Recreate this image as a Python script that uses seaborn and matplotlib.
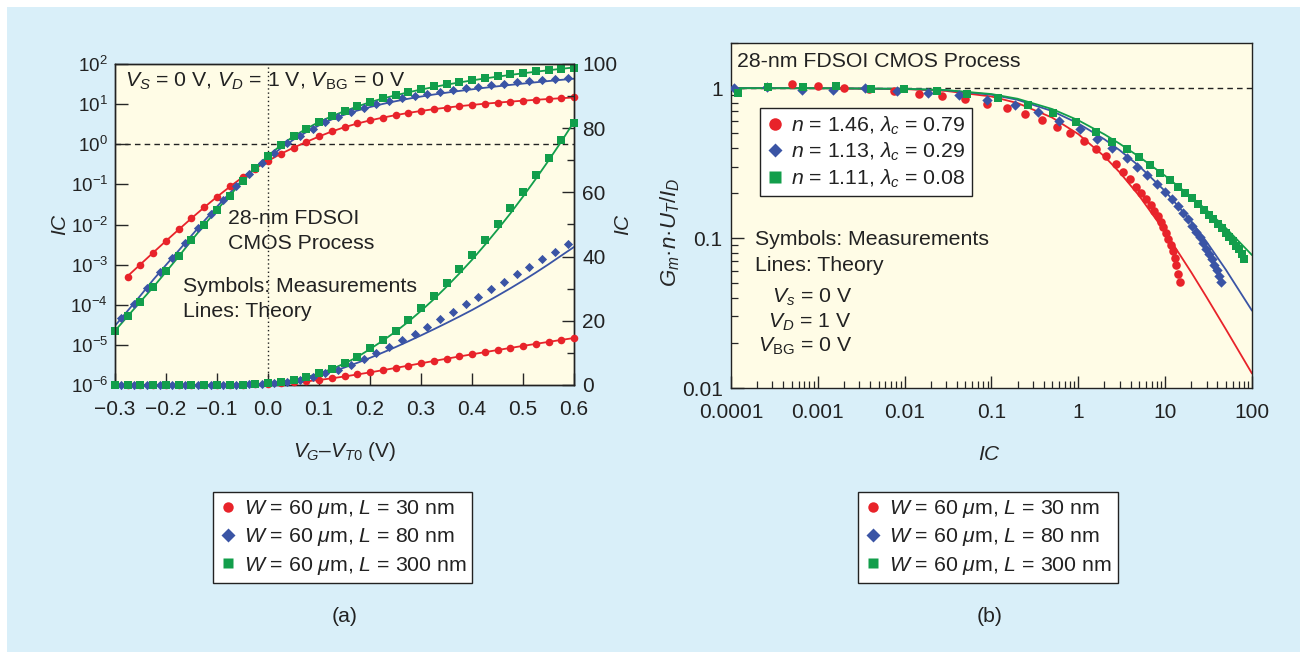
#!/usr/bin/env python3

import matplotlib
matplotlib.use('Agg')
import matplotlib.pyplot as plt
import numpy as np
import pandas as pd
import seaborn as sns
from matplotlib import ticker
from matplotlib.lines import Line2D
from matplotlib.patches import Rectangle

# ---------------- (a) IC versus VG - VT0 ----------------
# measurement grids differ a little per device (VT0 differs)
v_30 = [-0.275, -0.25, -0.225, -0.2, -0.175, -0.15, -0.125, -0.1, -0.075, -0.05, -0.025,
        0.0, 0.025, 0.05, 0.075, 0.1, 0.125, 0.15, 0.175, 0.2, 0.225, 0.25, 0.275, 0.3,
        0.325, 0.35, 0.375, 0.4, 0.425, 0.45, 0.475, 0.5, 0.525, 0.55, 0.575, 0.6]
ic_30 = [5.0e-4, 1.0e-3, 2.0e-3, 3.9e-3, 7.6e-3, 0.0145, 0.0269, 0.049, 0.089, 0.151, 0.245,
         0.38, 0.57, 0.81, 1.15, 1.58, 2.1, 2.68, 3.3, 3.95, 4.62, 5.32, 6.05, 6.8,
         7.5, 8.2, 8.88, 9.55, 10.22, 10.88, 11.54, 12.2, 12.85, 13.48, 14.1, 14.7]

v_80 = [-0.2875, -0.2625, -0.2375, -0.2125, -0.1875, -0.1625, -0.1375, -0.1125, -0.0875,
        -0.0625, -0.0375, -0.0125, 0.0125, 0.0375, 0.0625, 0.0875, 0.1125, 0.1375, 0.1625,
        0.1875, 0.2125, 0.2375, 0.2625, 0.2875, 0.3125, 0.3375, 0.3625, 0.3875, 0.4125,
        0.4375, 0.4625, 0.4875, 0.5125, 0.5375, 0.5625, 0.5875]
ic_80 = [4.7e-5, 1.07e-4, 2.6e-4, 6.5e-4, 1.48e-3, 3.5e-3, 8.1e-3, 0.0186, 0.0417,
         0.089, 0.186, 0.339, 0.60, 1.05, 1.62, 2.45, 3.63, 4.8, 6.2,
         8.0, 9.9, 11.9, 13.9, 16.0, 18.2, 20.5, 22.8, 25.1, 27.4,
         29.8, 32.2, 34.6, 36.9, 39.2, 41.5, 43.9]

v_300 = [-0.3, -0.275, -0.25, -0.225, -0.2, -0.175, -0.15, -0.125, -0.1, -0.075, -0.05,
         -0.025, 0.0, 0.025, 0.05, 0.075, 0.1, 0.125, 0.15, 0.175, 0.2, 0.225, 0.25, 0.275,
         0.3, 0.325, 0.35, 0.375, 0.4, 0.425, 0.45, 0.475, 0.5, 0.525, 0.55, 0.575, 0.6]
ic_300 = [2.24e-5, 5.2e-5, 1.2e-4, 2.7e-4, 6.8e-4, 1.6e-3, 4.1e-3, 9.8e-3, 0.0234, 0.0525, 0.12,
          0.263, 0.513, 0.944, 1.58, 2.45, 3.63, 5.0, 6.75, 8.8, 11.4, 14.0, 16.9, 20.2,
          23.9, 27.7, 31.9, 36.0, 40.5, 45.2, 50.2, 55.0, 60.2, 65.4, 70.6, 76.3, 81.7]

# theory curves (lines)
vt_30 = v_30
ict_30 = [5.2e-4, 1.02e-3, 2.0e-3, 3.9e-3, 7.5e-3, 0.0143, 0.0268, 0.049, 0.087, 0.150, 0.246,
          0.385, 0.575, 0.82, 1.14, 1.56, 2.08, 2.66, 3.28, 3.93, 4.61, 5.31, 6.03, 6.76,
          7.48, 8.19, 8.88, 9.56, 10.23, 10.89, 11.54, 12.18, 12.81, 13.43, 14.04, 14.64]
vt_80 = v_300
ict_80 = [3.0e-5, 7.1e-5, 1.7e-4, 4.2e-4, 9.8e-4, 2.26e-3, 5.3e-3, 0.0123, 0.0279, 0.061, 0.129,
          0.25, 0.45, 0.79, 1.30, 2.0, 2.95, 4.15, 5.45, 6.9, 8.45, 10.1, 11.8, 13.6,
          15.45, 17.35, 19.3, 21.3, 23.35, 25.55, 27.8, 30.1, 32.5, 35.0, 37.6, 40.3, 43.0]
vt_300 = v_300
ict_300 = [2.24e-5, 5.2e-5, 1.2e-4, 2.75e-4, 6.6e-4, 1.6e-3, 4.0e-3, 9.7e-3, 0.0232, 0.053, 0.118,
           0.26, 0.51, 0.94, 1.57, 2.43, 3.6, 4.98, 6.7, 8.7, 11.2, 13.8, 16.6, 19.7,
           23.1, 26.7, 30.6, 34.7, 39.0, 43.6, 48.4, 53.4, 58.7, 64.2, 69.9, 75.8, 82.0]

# ---------------- (b) Gm n UT / ID versus IC ----------------
gm_30 = [1.06, 1.03, 1.00, 0.98, 0.96, 0.92, 0.885, 0.845, 0.78, 0.74, 0.67, 0.61, 0.55, 0.50,
         0.445, 0.39, 0.35, 0.31, 0.277, 0.246, 0.22, 0.20, 0.182, 0.166, 0.152, 0.14, 0.128,
         0.118, 0.108, 0.099, 0.09, 0.082, 0.074, 0.066, 0.058, 0.051]
gm_80 = [0.99, 1.0, 1.02, 0.97, 0.97, 1.0, 0.955, 0.935, 0.90, 0.83, 0.77, 0.69, 0.60, 0.53,
         0.457, 0.396, 0.34, 0.30, 0.263, 0.228, 0.203, 0.182, 0.164, 0.148, 0.134, 0.121,
         0.11, 0.101, 0.093, 0.085, 0.078, 0.072, 0.066, 0.061, 0.056, 0.051]
gm_300 = [1.0, 1.0, 0.93, 1.02, 1.01, 1.03, 0.985, 0.985, 0.96, 0.92, 0.855, 0.77, 0.685, 0.595,
          0.51, 0.44, 0.39, 0.345, 0.307, 0.27, 0.244, 0.22, 0.2, 0.184, 0.168, 0.155, 0.143,
          0.133, 0.124, 0.116, 0.108, 0.101, 0.095, 0.089, 0.084, 0.078, 0.073]

ic_th = [1e-4, 1e-3, 0.01, 0.03, 0.1, 0.2, 0.5, 1, 2, 3, 5, 10, 20, 30, 50, 100]
gmt_30 = [0.9999, 0.9985, 0.9853, 0.958, 0.8789, 0.7946, 0.636, 0.4933, 0.3502, 0.274, 0.1919,
          0.1098, 0.05904, 0.04032, 0.02465, 0.01249]
gmt_80 = [0.9999, 0.9989, 0.9886, 0.9673, 0.9042, 0.8354, 0.7029, 0.5813, 0.4556, 0.385, 0.3025,
          0.2054, 0.1289, 0.0944, 0.0615, 0.0328]
gmt_300 = [0.9999, 0.999, 0.9898, 0.9706, 0.9131, 0.8495, 0.7253, 0.6101, 0.4915, 0.4255, 0.3491,
           0.2601, 0.1883, 0.1536, 0.1167, 0.077]

dev_labels = ['$W$ = 60 $\\mu$m, $L$ = 30 nm',
              '$W$ = 60 $\\mu$m, $L$ = 80 nm',
              '$W$ = 60 $\\mu$m, $L$ = 300 nm']
fit_labels = ['$n$ = 1.46, $\\lambda_c$ = 0.79',
              '$n$ = 1.13, $\\lambda_c$ = 0.29',
              '$n$ = 1.11, $\\lambda_c$ = 0.08']

RED = '#e8232a'
BLUE = '#3a54a5'
GREEN = '#129e4b'
BG = '#d9eff9'
PANEL = '#fffce6'

sns.set_style('ticks')
plt.rcParams['font.family'] = ['Liberation Sans', 'DejaVu Sans']
plt.rcParams['mathtext.fontset'] = 'custom'
plt.rcParams['mathtext.rm'] = 'Liberation Sans'
plt.rcParams['mathtext.it'] = 'Liberation Sans:italic'
plt.rcParams['mathtext.bf'] = 'Liberation Sans:bold'
plt.rcParams['xtick.direction'] = 'in'
plt.rcParams['ytick.direction'] = 'in'
plt.rcParams['axes.linewidth'] = 1.0
plt.rcParams['text.color'] = '#222222'
plt.rcParams['xtick.labelcolor'] = '#222222'
plt.rcParams['ytick.labelcolor'] = '#222222'

W, H = 1307, 659
fig = plt.figure(figsize=(W / 100, H / 100), dpi=100)
fig.patch.set_facecolor('white')
fig.add_artist(Rectangle((7 / W, 7 / H), 1293 / W, 645 / H, transform=fig.transFigure,
                         facecolor=BG, edgecolor='none', zorder=-1))

TICK_FS = 15
TXT_FS = 15.3
LAB_FS = 15

# ---------- panel (a) ----------
ax = fig.add_axes([115 / W, 1 - 385 / H, 459 / W, 321 / H])
ax.set_facecolor(PANEL)
ax.set_yscale('log')
ax2 = ax.twinx()

series_a = [
    (v_30, ic_30, vt_30, ict_30, RED, 'o', 30),
    (v_80, ic_80, vt_80, ict_80, BLUE, 'D', 22),
    (v_300, ic_300, vt_300, ict_300, GREEN, 's', 26),
]
for v, ic, vt, ict, col, mk, sz in series_a:
    meas = pd.DataFrame({'v': v, 'ic': ic})
    theo = pd.DataFrame({'v': vt, 'ic': ict})
    for a in (ax, ax2):
        sns.lineplot(data=theo, x='v', y='ic', ax=a, color=col, lw=1.3,
                     estimator=None, sort=False, zorder=2)
        sns.scatterplot(data=meas, x='v', y='ic', ax=a, color=col, marker=mk, s=sz,
                        linewidth=0, clip_on=False, zorder=3)

ax.axhline(1, color='#222222', lw=1.0, ls=(0, (4, 3)), zorder=1)
ax.axvline(0, color='#222222', lw=1.0, ls=(0, (1, 2)), zorder=1)

ax.set_xlim(-0.3, 0.6)
ax.set_ylim(1e-6, 1e2)
ax2.set_ylim(0, 100)

ax.xaxis.set_major_locator(ticker.FixedLocator([-0.3, -0.2, -0.1, 0.0, 0.1, 0.2, 0.3, 0.4, 0.5, 0.6]))
ax.xaxis.set_major_formatter(ticker.FuncFormatter(
    lambda x, p: ('%.1f' % x).replace('-0.0', '0.0').replace('-', '\u2212')))
ax.yaxis.set_major_locator(ticker.FixedLocator([10.0 ** k for k in range(-6, 3)]))
ax.yaxis.set_major_formatter(ticker.LogFormatterSciNotation())
ax.yaxis.set_minor_locator(ticker.NullLocator())
ax2.yaxis.set_major_locator(ticker.MultipleLocator(20))
ax2.yaxis.set_minor_locator(ticker.MultipleLocator(10))

ax.tick_params(axis='x', which='major', length=9, width=1.0, labelsize=TICK_FS, pad=11)
ax.tick_params(axis='y', which='major', length=9, width=1.0, labelsize=13.5, pad=5)
ax2.tick_params(axis='y', which='major', length=9, width=1.0, labelsize=TICK_FS, pad=6)
ax2.tick_params(axis='y', which='minor', length=5, width=1.0)

ax.set_xlabel('$V_G$\u2013$V_{T0}$ (V)', fontsize=LAB_FS)
ax.xaxis.set_label_coords(0.5, -0.17)
ax.set_ylabel('$IC$', fontsize=LAB_FS)
ax.yaxis.set_label_coords(-0.097, 0.5)
ax2.set_ylabel('$IC$', fontsize=LAB_FS)
ax2.yaxis.set_label_coords(1.087, 0.5)
ax2.set_xlabel('')

ax.text(0.022, 0.929, '$V_S$ = 0 V, $V_D$ = 1 V, $V_{\\mathrm{BG}}$ = 0 V', transform=ax.transAxes,
        fontsize=TXT_FS, va='baseline', ha='left')
ax.text(0.247, 0.5006, '28-nm FDSOI', transform=ax.transAxes, fontsize=TXT_FS, va='baseline')
ax.text(0.247, 0.4227, 'CMOS Process', transform=ax.transAxes, fontsize=TXT_FS, va='baseline')
ax.text(0.1475, 0.2907, 'Symbols: Measurements', transform=ax.transAxes, fontsize=TXT_FS, va='baseline')
ax.text(0.1475, 0.211, 'Lines: Theory', transform=ax.transAxes, fontsize=TXT_FS, va='baseline')

# ---------- panel (b) ----------
bx = fig.add_axes([731 / W, 1 - 388 / H, 521 / W, 345 / H])
bx.set_facecolor(PANEL)
bx.set_xscale('log')
bx.set_yscale('log')

series_b = [
    (ic_30, gm_30, gmt_30, RED, 'o', 38),
    (ic_80, gm_80, gmt_80, BLUE, 'D', 28),
    (ic_300, gm_300, gmt_300, GREEN, 's', 32),
]
for ic, gm, gmt, col, mk, sz in series_b:
    theo = pd.DataFrame({'ic': ic_th, 'g': gmt})
    meas = pd.DataFrame({'ic': ic, 'g': gm})
    sns.lineplot(data=theo, x='ic', y='g', ax=bx, color=col, lw=1.3,
                 estimator=None, sort=False, zorder=2)
    sns.scatterplot(data=meas, x='ic', y='g', ax=bx, color=col, marker=mk, s=sz,
                    linewidth=0, zorder=3)

bx.axhline(1, color='#222222', lw=1.0, ls=(0, (4, 3)), zorder=1)
bx.set_xlim(1e-4, 100)
bx.set_ylim(0.01, 2)

bx.xaxis.set_major_locator(ticker.FixedLocator([1e-4, 1e-3, 1e-2, 0.1, 1, 10, 100]))
bx.xaxis.set_major_formatter(ticker.FixedFormatter(['0.0001', '0.001', '0.01', '0.1', '1', '10', '100']))
bx.xaxis.set_minor_locator(ticker.LogLocator(base=10, subs=np.arange(2, 10), numticks=30))
bx.xaxis.set_minor_formatter(ticker.NullFormatter())
bx.yaxis.set_major_locator(ticker.FixedLocator([0.01, 0.1, 1]))
bx.yaxis.set_major_formatter(ticker.FixedFormatter(['0.01', '0.1', '1']))
bx.yaxis.set_minor_locator(ticker.LogLocator(base=10, subs=np.arange(2, 10), numticks=30))
bx.yaxis.set_minor_formatter(ticker.NullFormatter())
bx.tick_params(axis='x', which='major', length=9, width=1.0, labelsize=TICK_FS, pad=11)
bx.tick_params(axis='y', which='major', length=9, width=1.0, labelsize=TICK_FS, pad=6)
bx.tick_params(axis='both', which='minor', length=5, width=0.9)

bx.set_xlabel('$IC$', fontsize=LAB_FS)
bx.xaxis.set_label_coords(0.497, -0.165)
bx.set_ylabel('$G_m$\u00b7$n$\u00b7$U_T$/$I_D$', fontsize=16)
bx.yaxis.set_label_coords(-0.094, 0.45)

bx.text(0.012, 0.9315, '28-nm FDSOI CMOS Process', transform=bx.transAxes, fontsize=TXT_FS,
        va='baseline')
bx.text(0.046, 0.415, 'Symbols: Measurements', transform=bx.transAxes, fontsize=TXT_FS, va='baseline')
bx.text(0.046, 0.34, 'Lines: Theory', transform=bx.transAxes, fontsize=TXT_FS, va='baseline')
bx.text(0.232, 0.246, '$V_s$ = 0 V', transform=bx.transAxes, fontsize=TXT_FS, va='baseline', ha='right')
bx.text(0.232, 0.176, '$V_D$ = 1 V', transform=bx.transAxes, fontsize=TXT_FS, va='baseline', ha='right')
bx.text(0.232, 0.104, '$V_{\\mathrm{BG}}$ = 0 V', transform=bx.transAxes, fontsize=TXT_FS,
        va='baseline', ha='right')

fit_handles = [
    Line2D([], [], ls='none', marker='o', color=RED, mec='none', markersize=9),
    Line2D([], [], ls='none', marker='D', color=BLUE, mec='none', markersize=7.5),
    Line2D([], [], ls='none', marker='s', color=GREEN, mec='none', markersize=8),
]
leg_in = bx.legend(fit_handles, fit_labels, loc='upper left', bbox_to_anchor=(0.056, 0.812),
                   borderaxespad=0, frameon=True, fancybox=False, edgecolor='#222222',
                   framealpha=1, fontsize=TXT_FS, handlelength=0.8, handletextpad=0.35,
                   borderpad=0.3, labelspacing=0.2)
leg_in.get_frame().set_linewidth(1.0)

for a in (ax, ax2, bx):
    for s in a.spines.values():
        s.set_color('#222222')

# ---------- bottom legends and panel tags ----------
dev_handles = [
    Line2D([], [], ls='none', marker='o', color=RED, mec='none', markersize=7.5),
    Line2D([], [], ls='none', marker='D', color=BLUE, mec='none', markersize=7),
    Line2D([], [], ls='none', marker='s', color=GREEN, mec='none', markersize=7),
]
for x0 in (212.7 / W, 858 / W):
    leg = fig.legend(dev_handles, dev_labels, loc='upper left', bbox_to_anchor=(x0, 1 - 491.7 / H),
                     borderaxespad=0, frameon=True, fancybox=False, edgecolor='#222222',
                     framealpha=1, fontsize=TXT_FS, handlelength=0.8, handletextpad=0.35,
                     borderpad=0.3, labelspacing=0.3)
    leg.get_frame().set_linewidth(1.0)

fig.text(345 / W, 1 - 617 / H, '(a)', fontsize=TXT_FS, ha='center', va='center')
fig.text(990 / W, 1 - 617 / H, '(b)', fontsize=TXT_FS, ha='center', va='center')

fig.savefig('out.png', dpi=100, facecolor=fig.get_facecolor())
